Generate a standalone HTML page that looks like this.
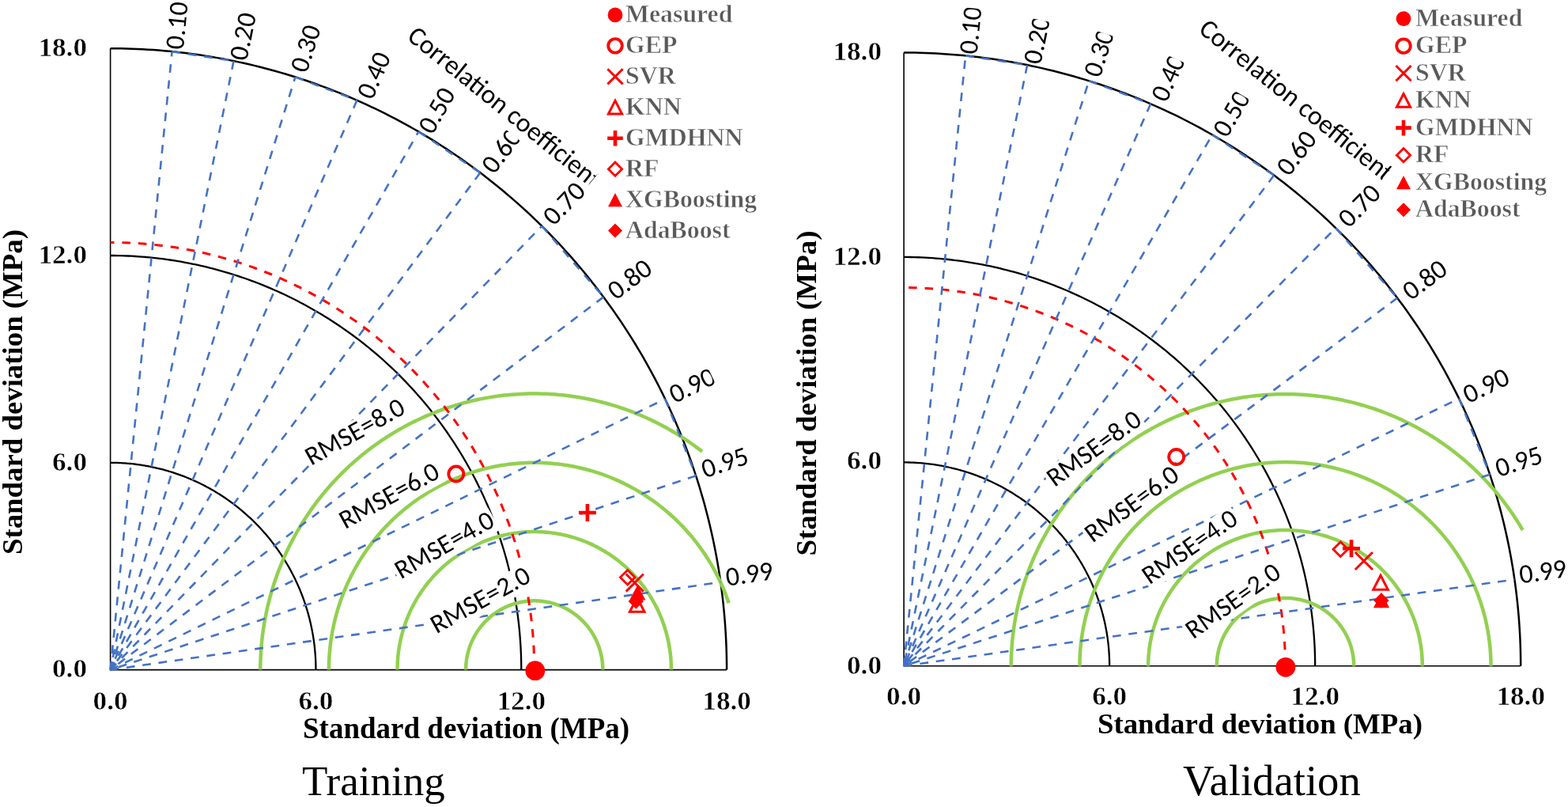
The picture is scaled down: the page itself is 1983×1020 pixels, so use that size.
<!DOCTYPE html>
<html><head><meta charset="utf-8"><title>Taylor diagrams</title>
<style>html,body{margin:0;padding:0;background:#fff}svg{display:block}</style></head>
<body><svg width="1983" height="1020" viewBox="0 0 1983 1020">
<rect width="1983" height="1020" fill="#fff"/>
<path d="M139.6,584.8 L141.87,584.81 L144.13,584.84 L146.4,584.89 L148.67,584.96 L150.93,585.05 L153.2,585.16 L155.46,585.29 L157.73,585.44 L159.99,585.61 L162.25,585.8 L164.5,586.01 L166.76,586.23 L169.01,586.48 L171.27,586.75 L173.52,587.04 L175.76,587.35 L178.01,587.68 L180.25,588.02 L182.48,588.39 L184.72,588.78 L186.95,589.18 L189.18,589.61 L191.4,590.06 L193.62,590.52 L195.84,591.01 L198.05,591.51 L200.26,592.03 L202.46,592.58 L204.66,593.14 L206.85,593.72 L209.04,594.32 L211.22,594.94 L213.4,595.58 L215.57,596.24 L217.73,596.92 L219.89,597.61 L222.05,598.33 L224.19,599.06 L226.33,599.82 L228.47,600.59 L230.6,601.38 L232.72,602.19 L234.83,603.02 L236.94,603.86 L239.03,604.73 L241.12,605.61 L243.21,606.51 L245.28,607.43 L247.35,608.37 L249.41,609.33 L251.46,610.3 L253.5,611.3 L255.54,612.31 L257.56,613.33 L259.58,614.38 L261.58,615.44 L263.58,616.53 L265.57,617.62 L267.55,618.74 L269.52,619.87 L271.48,621.03 L273.42,622.19 L275.36,623.38 L277.29,624.58 L279.21,625.8 L281.12,627.04 L283.01,628.29 L284.9,629.56 L286.77,630.84 L288.63,632.15 L290.49,633.46 L292.33,634.8 L294.15,636.15 L295.97,637.52 L297.78,638.9 L299.57,640.3 L301.35,641.71 L303.12,643.14 L304.87,644.59 L306.62,646.05 L308.35,647.53 L310.07,649.02 L311.77,650.52 L313.46,652.04 L315.14,653.58 L316.81,655.13 L318.46,656.7 L320.1,658.28 L321.72,659.87 L323.33,661.48 L324.93,663.1 L326.51,664.74 L328.08,666.39 L329.63,668.05 L331.17,669.73 L332.69,671.42 L334.2,673.13 L335.7,674.84 L337.18,676.57 L338.64,678.32 L340.09,680.07 L341.53,681.84 L342.95,683.63 L344.35,685.42 L345.74,687.23 L347.11,689.04 L348.47,690.88 L349.81,692.72 L351.13,694.57 L352.44,696.44 L353.74,698.31 L355.01,700.2 L356.27,702.1 L357.51,704.01 L358.74,705.93 L359.95,707.87 L361.14,709.81 L362.32,711.76 L363.48,713.73 L364.62,715.7 L365.75,717.68 L366.86,719.68 L367.95,721.68 L369.02,723.69 L370.07,725.71 L371.11,727.75 L372.13,729.79 L373.14,731.83 L374.12,733.89 L375.09,735.96 L376.04,738.03 L376.97,740.12 L377.88,742.21 L378.78,744.31 L379.65,746.41 L380.51,748.53 L381.35,750.65 L382.18,752.78 L382.98,754.92 L383.76,757.06 L384.53,759.21 L385.28,761.37 L386.01,763.53 L386.72,765.7 L387.41,767.88 L388.08,770.06 L388.73,772.24 L389.37,774.44 L389.98,776.64 L390.58,778.84 L391.16,781.05 L391.72,783.26 L392.25,785.48 L392.77,787.71 L393.27,789.94 L393.76,792.17 L394.22,794.41 L394.66,796.65 L395.08,798.89 L395.49,801.14 L395.87,803.39 L396.23,805.65 L396.58,807.9 L396.9,810.16 L397.21,812.43 L397.5,814.69 L397.76,816.96 L398.01,819.23 L398.24,821.51 L398.44,823.78 L398.63,826.06 L398.8,828.34 L398.95,830.62 L399.08,832.9 L399.19,835.18 L399.28,837.46 L399.34,839.75 L399.39,842.03 L399.42,844.32 L399.43,846.6" fill="none" stroke="#000" stroke-width="2.3"/>
<path d="M139.6,323 L144.13,323.02 L148.67,323.08 L153.2,323.18 L157.74,323.32 L162.27,323.5 L166.8,323.72 L171.32,323.98 L175.85,324.28 L180.37,324.61 L184.89,324.99 L189.41,325.41 L193.92,325.87 L198.43,326.37 L202.93,326.9 L207.43,327.48 L211.92,328.1 L216.41,328.75 L220.89,329.45 L225.37,330.18 L229.84,330.95 L234.3,331.77 L238.76,332.62 L243.2,333.51 L247.64,334.44 L252.08,335.41 L256.5,336.42 L260.91,337.47 L265.32,338.55 L269.71,339.68 L274.1,340.84 L278.47,342.04 L282.84,343.28 L287.19,344.56 L291.54,345.88 L295.87,347.23 L300.19,348.63 L304.49,350.06 L308.79,351.53 L313.07,353.03 L317.34,354.58 L321.59,356.16 L325.83,357.78 L330.06,359.43 L334.27,361.13 L338.47,362.86 L342.65,364.62 L346.82,366.43 L350.97,368.27 L355.1,370.14 L359.22,372.06 L363.32,374.01 L367.41,375.99 L371.47,378.01 L375.52,380.07 L379.56,382.16 L383.57,384.29 L387.56,386.45 L391.54,388.65 L395.5,390.88 L399.43,393.15 L403.35,395.45 L407.25,397.79 L411.13,400.16 L414.98,402.56 L418.82,405 L422.63,407.47 L426.42,409.98 L430.19,412.52 L433.94,415.09 L437.67,417.69 L441.37,420.33 L445.05,423 L448.71,425.7 L452.34,428.43 L455.95,431.2 L459.54,434 L463.1,436.83 L466.64,439.69 L470.15,442.58 L473.64,445.5 L477.1,448.45 L480.53,451.43 L483.94,454.45 L487.32,457.49 L490.68,460.56 L494.01,463.66 L497.31,466.79 L500.59,469.95 L503.84,473.14 L507.06,476.36 L510.25,479.6 L513.42,482.88 L516.55,486.18 L519.66,489.51 L522.74,492.86 L525.79,496.24 L528.81,499.65 L531.8,503.09 L534.76,506.55 L537.69,510.04 L540.59,513.55 L543.46,517.09 L546.3,520.65 L549.1,524.24 L551.88,527.85 L554.62,531.49 L557.34,535.15 L560.02,538.84 L562.67,542.54 L565.29,546.28 L567.87,550.03 L570.42,553.81 L572.94,557.61 L575.43,561.43 L577.88,565.27 L580.3,569.13 L582.69,573.02 L585.04,576.93 L587.36,580.85 L589.64,584.8 L591.89,588.77 L594.11,592.75 L596.29,596.76 L598.44,600.78 L600.55,604.83 L602.63,608.89 L604.67,612.97 L606.67,617.07 L608.64,621.18 L610.58,625.32 L612.48,629.47 L614.34,633.63 L616.17,637.81 L617.96,642.01 L619.71,646.23 L621.43,650.46 L623.11,654.7 L624.75,658.96 L626.36,663.23 L627.93,667.52 L629.46,671.82 L630.95,676.13 L632.41,680.46 L633.83,684.8 L635.21,689.15 L636.56,693.51 L637.87,697.89 L639.14,702.28 L640.37,706.67 L641.56,711.08 L642.71,715.5 L643.83,719.93 L644.91,724.37 L645.95,728.82 L646.95,733.27 L647.91,737.74 L648.83,742.21 L649.72,746.69 L650.56,751.18 L651.37,755.68 L652.14,760.18 L652.87,764.69 L653.56,769.21 L654.21,773.73 L654.82,778.26 L655.39,782.79 L655.93,787.33 L656.42,791.87 L656.87,796.42 L657.29,800.97 L657.66,805.52 L658,810.08 L658.3,814.63 L658.55,819.2 L658.77,823.76 L658.95,828.33 L659.09,832.89 L659.19,837.46 L659.25,842.03 L659.27,846.6" fill="none" stroke="#000" stroke-width="2.3"/>
<path d="M139.6,61.2 L146.4,61.23 L153.2,61.32 L160,61.47 L166.8,61.68 L173.6,61.95 L180.4,62.28 L187.19,62.66 L193.98,63.11 L200.76,63.62 L207.54,64.19 L214.31,64.82 L221.08,65.5 L227.84,66.25 L234.6,67.05 L241.35,67.92 L248.09,68.84 L254.82,69.83 L261.54,70.87 L268.25,71.97 L274.96,73.13 L281.65,74.35 L288.34,75.63 L295.01,76.97 L301.67,78.36 L308.31,79.82 L314.95,81.33 L321.57,82.9 L328.18,84.53 L334.77,86.22 L341.35,87.96 L347.91,89.76 L354.46,91.63 L360.99,93.54 L367.5,95.52 L374,97.55 L380.48,99.64 L386.94,101.79 L393.38,103.99 L399.8,106.25 L406.2,108.57 L412.59,110.94 L418.95,113.37 L425.29,115.85 L431.61,118.39 L437.9,120.99 L444.17,123.64 L450.42,126.34 L456.65,129.1 L462.85,131.92 L469.03,134.79 L475.18,137.71 L481.31,140.69 L487.41,143.72 L493.49,146.8 L499.53,149.94 L505.55,153.13 L511.55,156.38 L517.51,159.67 L523.44,163.02 L529.35,166.42 L535.23,169.88 L541.07,173.38 L546.89,176.94 L552.67,180.54 L558.43,184.2 L564.15,187.91 L569.83,191.67 L575.49,195.47 L581.11,199.33 L586.7,203.24 L592.26,207.19 L597.78,211.2 L603.26,215.25 L608.71,219.35 L614.13,223.5 L619.51,227.7 L624.85,231.94 L630.16,236.23 L635.42,240.57 L640.65,244.95 L645.84,249.38 L651,253.85 L656.11,258.37 L661.19,262.93 L666.22,267.54 L671.22,272.19 L676.17,276.89 L681.09,281.63 L685.96,286.41 L690.79,291.24 L695.58,296.11 L700.33,301.02 L705.03,305.97 L709.69,310.96 L714.31,315.99 L718.88,321.06 L723.41,326.18 L727.9,331.33 L732.34,336.52 L736.73,341.75 L741.08,347.02 L745.39,352.33 L749.64,357.68 L753.85,363.06 L758.02,368.48 L762.14,373.93 L766.21,379.43 L770.23,384.95 L774.2,390.52 L778.13,396.11 L782.01,401.74 L785.83,407.41 L789.61,413.11 L793.34,418.84 L797.02,424.6 L800.65,430.4 L804.23,436.23 L807.76,442.09 L811.24,447.98 L814.67,453.9 L818.04,459.85 L821.37,465.83 L824.64,471.84 L827.86,477.88 L831.02,483.94 L834.14,490.04 L837.2,496.16 L840.21,502.3 L843.17,508.48 L846.07,514.68 L848.91,520.9 L851.71,527.15 L854.45,533.42 L857.13,539.72 L859.76,546.04 L862.34,552.38 L864.86,558.75 L867.33,565.14 L869.74,571.55 L872.09,577.98 L874.39,584.43 L876.63,590.9 L878.82,597.39 L880.95,603.9 L883.02,610.43 L885.04,616.97 L887,623.53 L888.9,630.11 L890.75,636.71 L892.54,643.32 L894.27,649.95 L895.95,656.59 L897.56,663.25 L899.12,669.92 L900.62,676.61 L902.07,683.31 L903.45,690.02 L904.78,696.74 L906.05,703.47 L907.26,710.22 L908.41,716.97 L909.5,723.74 L910.54,730.51 L911.51,737.29 L912.43,744.08 L913.29,750.88 L914.09,757.69 L914.83,764.5 L915.51,771.32 L916.13,778.15 L916.7,784.98 L917.2,791.81 L917.65,798.65 L918.03,805.5 L918.36,812.34 L918.63,819.19 L918.83,826.04 L918.98,832.89 L919.07,839.75 L919.1,846.6" fill="none" stroke="#000" stroke-width="2.5"/>
<path d="M139.6,61.2L139.6,846.6L919.1,846.6" fill="none" stroke="#000" stroke-width="1.6"/>
<path d="M589.11,846.6 L589.12,845.08 L589.16,843.55 L589.23,842.03 L589.32,840.51 L589.44,838.99 L589.59,837.48 L589.76,835.96 L589.95,834.45 L590.18,832.95 L590.43,831.45 L590.7,829.95 L591,828.46 L591.33,826.97 L591.68,825.49 L592.06,824.01 L592.47,822.55 L592.9,821.09 L593.35,819.63 L593.83,818.19 L594.33,816.75 L594.86,815.33 L595.42,813.91 L596,812.5 L596.6,811.11 L597.23,809.72 L597.88,808.34 L598.55,806.98 L599.25,805.63 L599.97,804.29 L600.72,802.97 L601.48,801.65 L602.27,800.36 L603.08,799.07 L603.92,797.8 L604.78,796.55 L605.65,795.31 L606.55,794.08 L607.47,792.87 L608.41,791.68 L609.37,790.51 L610.36,789.35 L611.36,788.21 L612.38,787.08 L613.42,785.98 L614.48,784.89 L615.56,783.83 L616.65,782.78 L617.77,781.75 L618.9,780.74 L620.05,779.75 L621.22,778.78 L622.4,777.83 L623.6,776.91 L624.81,776 L626.04,775.12 L627.29,774.25 L628.55,773.41 L629.83,772.59 L631.11,771.8 L632.42,771.02 L633.73,770.27 L635.06,769.55 L636.4,768.84 L637.75,768.17 L639.12,767.51 L640.49,766.88 L641.88,766.27 L643.28,765.69 L644.68,765.13 L646.1,764.6 L647.52,764.09 L648.96,763.6 L650.4,763.15 L651.85,762.71 L653.31,762.31 L654.77,761.93 L656.24,761.57 L657.72,761.24 L659.2,760.94 L660.68,760.66 L662.17,760.41 L663.67,760.18 L665.17,759.98 L666.67,759.81 L668.17,759.67 L669.68,759.55 L671.19,759.45 L672.7,759.39 L674.21,759.35 L675.72,759.33 L677.23,759.35 L678.75,759.39 L680.26,759.45 L681.76,759.55 L683.27,759.67 L684.78,759.81 L686.28,759.98 L687.78,760.18 L689.27,760.41 L690.76,760.66 L692.25,760.94 L693.73,761.24 L695.21,761.57 L696.68,761.93 L698.14,762.31 L699.6,762.71 L701.05,763.15 L702.49,763.6 L703.92,764.09 L705.35,764.6 L706.76,765.13 L708.17,765.69 L709.56,766.27 L710.95,766.88 L712.33,767.51 L713.69,768.17 L715.04,768.84 L716.38,769.55 L717.71,770.27 L719.03,771.02 L720.33,771.8 L721.62,772.59 L722.89,773.41 L724.16,774.25 L725.4,775.12 L726.63,776 L727.85,776.91 L729.05,777.83 L730.23,778.78 L731.4,779.75 L732.54,780.74 L733.68,781.75 L734.79,782.78 L735.89,783.83 L736.97,784.89 L738.03,785.98 L739.07,787.08 L740.09,788.21 L741.09,789.35 L742.07,790.51 L743.03,791.68 L743.97,792.87 L744.89,794.08 L745.79,795.31 L746.67,796.55 L747.53,797.8 L748.36,799.07 L749.17,800.36 L749.96,801.65 L750.73,802.97 L751.47,804.29 L752.2,805.63 L752.89,806.98 L753.57,808.34 L754.22,809.72 L754.85,811.11 L755.45,812.5 L756.03,813.91 L756.58,815.33 L757.11,816.75 L757.62,818.19 L758.09,819.63 L758.55,821.09 L758.98,822.55 L759.38,824.01 L759.76,825.49 L760.11,826.97 L760.44,828.46 L760.74,829.95 L761.02,831.45 L761.27,832.95 L761.49,834.45 L761.69,835.96 L761.86,837.48 L762,838.99 L762.12,840.51 L762.22,842.03 L762.28,843.55 L762.32,845.08 L762.33,846.6" fill="none" stroke="#92D050" stroke-width="4.5"/>
<path d="M502.5,846.6 L502.53,843.55 L502.61,840.51 L502.74,837.47 L502.92,834.43 L503.16,831.39 L503.45,828.36 L503.79,825.33 L504.19,822.31 L504.63,819.3 L505.13,816.29 L505.68,813.3 L506.29,810.31 L506.94,807.34 L507.65,804.38 L508.4,801.43 L509.21,798.49 L510.07,795.57 L510.98,792.67 L511.94,789.78 L512.95,786.91 L514.01,784.05 L515.11,781.22 L516.27,778.4 L517.48,775.61 L518.73,772.84 L520.03,770.09 L521.38,767.36 L522.78,764.66 L524.22,761.98 L525.71,759.33 L527.24,756.71 L528.82,754.11 L530.45,751.54 L532.12,749 L533.83,746.49 L535.58,744.01 L537.38,741.56 L539.22,739.15 L541.1,736.76 L543.03,734.41 L544.99,732.1 L546.99,729.81 L549.04,727.57 L551.12,725.36 L553.24,723.19 L555.39,721.05 L557.59,718.95 L559.81,716.9 L562.08,714.88 L564.38,712.9 L566.71,710.96 L569.08,709.07 L571.48,707.21 L573.91,705.4 L576.37,703.63 L578.86,701.91 L581.38,700.22 L583.93,698.59 L586.51,697 L589.11,695.45 L591.74,693.95 L594.4,692.5 L597.08,691.09 L599.79,689.73 L602.52,688.42 L605.27,687.16 L608.04,685.94 L610.83,684.78 L613.65,683.66 L616.48,682.59 L619.33,681.58 L622.19,680.61 L625.08,679.69 L627.98,678.83 L630.89,678.01 L633.82,677.25 L636.76,676.54 L639.71,675.88 L642.67,675.27 L645.64,674.72 L648.62,674.22 L651.61,673.77 L654.61,673.37 L657.62,673.02 L660.63,672.73 L663.64,672.49 L666.66,672.31 L669.68,672.17 L672.7,672.09 L675.72,672.07 L678.75,672.09 L681.77,672.17 L684.79,672.31 L687.81,672.49 L690.82,672.73 L693.83,673.02 L696.83,673.37 L699.83,673.77 L702.82,674.22 L705.8,674.72 L708.78,675.27 L711.74,675.88 L714.69,676.54 L717.63,677.25 L720.56,678.01 L723.47,678.83 L726.37,679.69 L729.25,680.61 L732.12,681.58 L734.97,682.59 L737.8,683.66 L740.61,684.78 L743.41,685.94 L746.18,687.16 L748.93,688.42 L751.66,689.73 L754.36,691.09 L757.05,692.5 L759.7,693.95 L762.33,695.45 L764.94,697 L767.52,698.59 L770.07,700.22 L772.59,701.91 L775.08,703.63 L777.54,705.4 L779.97,707.21 L782.37,709.07 L784.74,710.96 L787.07,712.9 L789.37,714.88 L791.63,716.9 L793.86,718.95 L796.05,721.05 L798.21,723.19 L800.33,725.36 L802.41,727.57 L804.45,729.81 L806.46,732.1 L808.42,734.41 L810.34,736.76 L812.22,739.15 L814.06,741.56 L815.86,744.01 L817.62,746.49 L819.33,749 L821,751.54 L822.62,754.11 L824.2,756.71 L825.74,759.33 L827.23,761.98 L828.67,764.66 L830.06,767.36 L831.41,770.09 L832.72,772.84 L833.97,775.61 L835.17,778.4 L836.33,781.22 L837.44,784.05 L838.5,786.91 L839.51,789.78 L840.47,792.67 L841.38,795.57 L842.23,798.49 L843.04,801.43 L843.8,804.38 L844.51,807.34 L845.16,810.31 L845.76,813.3 L846.31,816.29 L846.81,819.3 L847.26,822.31 L847.65,825.33 L848,828.36 L848.29,831.39 L848.52,834.43 L848.71,837.47 L848.84,840.51 L848.92,843.55 L848.95,846.6" fill="none" stroke="#92D050" stroke-width="4.5"/>
<path d="M415.89,846.6 L415.92,842.51 L416.02,838.42 L416.18,834.33 L416.4,830.24 L416.68,826.16 L417.03,822.08 L417.44,818.01 L417.92,813.95 L418.46,809.89 L419.06,805.85 L419.72,801.81 L420.45,797.78 L421.24,793.77 L422.09,789.77 L423,785.78 L423.97,781.81 L425.01,777.85 L426.11,773.91 L427.26,769.99 L428.48,766.09 L429.76,762.2 L431.1,758.34 L432.5,754.5 L433.96,750.68 L435.48,746.88 L437.05,743.11 L438.69,739.37 L440.38,735.65 L442.13,731.95 L443.94,728.29 L445.8,724.65 L447.72,721.05 L449.69,717.47 L451.73,713.93 L453.81,710.42 L455.95,706.94 L458.14,703.49 L460.39,700.09 L462.69,696.71 L465.04,693.38 L467.44,690.08 L469.9,686.82 L472.4,683.59 L474.95,680.41 L477.56,677.27 L480.21,674.17 L482.91,671.11 L485.65,668.1 L488.44,665.13 L491.28,662.2 L494.16,659.32 L497.09,656.48 L500.06,653.69 L503.08,650.95 L506.13,648.25 L509.23,645.61 L512.37,643.01 L515.55,640.46 L518.76,637.96 L522.02,635.52 L525.31,633.12 L528.64,630.78 L532.01,628.49 L535.41,626.25 L538.84,624.07 L542.31,621.94 L545.81,619.87 L549.35,617.85 L552.91,615.89 L556.51,613.98 L560.13,612.13 L563.78,610.34 L567.46,608.61 L571.16,606.93 L574.89,605.32 L578.65,603.76 L582.43,602.26 L586.23,600.82 L590.05,599.44 L593.9,598.12 L597.76,596.86 L601.65,595.66 L605.55,594.53 L609.47,593.45 L613.4,592.44 L617.35,591.49 L621.32,590.6 L625.29,589.78 L629.28,589.02 L633.29,588.32 L637.3,587.68 L641.32,587.11 L645.35,586.6 L649.38,586.15 L653.43,585.77 L657.48,585.45 L661.53,585.19 L665.59,585 L669.65,584.87 L673.71,584.81 L677.77,584.81 L681.83,584.87 L685.89,585 L689.95,585.19 L694,585.45 L698.05,585.77 L702.09,586.15 L706.13,586.6 L710.16,587.11 L714.18,587.68 L718.19,588.32 L722.19,589.02 L726.18,589.78 L730.16,590.61 L734.12,591.5 L738.07,592.45 L742.01,593.46 L745.93,594.54 L749.83,595.67 L753.71,596.87 L757.58,598.13 L761.42,599.45 L765.24,600.83 L769.05,602.27 L772.82,603.77 L776.58,605.33 L780.31,606.94 L784.01,608.62 L787.69,610.36 L791.34,612.15 L794.97,614 L798.56,615.9 L802.12,617.87 L805.66,619.88 L809.16,621.96 L812.63,624.09 L816.06,626.27 L819.46,628.51 L822.83,630.8 L826.16,633.14 L829.45,635.54 L832.71,637.98 L835.92,640.48 L839.1,643.03 L842.24,645.63 L845.34,648.27 L848.39,650.97 L851.4,653.71 L854.38,656.5 L857.3,659.34 L860.19,662.22 L863.02,665.15 L865.81,668.12 L868.56,671.14 L871.26,674.19 L873.91,677.29 L876.51,680.44 L879.06,683.62 L881.57,686.84 L884.02,690.1 L886.42,693.4 L888.77,696.74 L891.07,700.11 L893.32,703.52 L895.51,706.96 L897.65,710.44 L899.74,713.95 L901.77,717.5 L903.74,721.07 L905.66,724.68 L907.52,728.32 L909.33,731.98 L911.08,735.67 L912.77,739.39 L914.41,743.14 L915.98,746.91 L917.5,750.71 L918.96,754.53 L920.36,758.37 L921.69,762.23" fill="none" stroke="#92D050" stroke-width="4.5"/>
<path d="M329.28,846.6 L329.3,842.27 L329.38,837.95 L329.52,833.63 L329.7,829.3 L329.94,824.99 L330.24,820.67 L330.58,816.36 L330.98,812.05 L331.43,807.75 L331.93,803.45 L332.49,799.17 L333.1,794.88 L333.76,790.61 L334.48,786.35 L335.25,782.09 L336.07,777.84 L336.94,773.61 L337.86,769.38 L338.84,765.17 L339.86,760.97 L340.94,756.78 L342.07,752.61 L343.25,748.45 L344.49,744.31 L345.77,740.18 L347.1,736.07 L348.49,731.98 L349.92,727.9 L351.41,723.84 L352.94,719.8 L354.53,715.78 L356.16,711.78 L357.84,707.8 L359.58,703.84 L361.36,699.91 L363.18,695.99 L365.06,692.1 L366.98,688.24 L368.95,684.39 L370.97,680.58 L373.04,676.78 L375.15,673.02 L377.31,669.28 L379.51,665.57 L381.76,661.88 L384.06,658.23 L386.39,654.6 L388.78,651 L391.21,647.43 L393.68,643.9 L396.19,640.39 L398.75,636.92 L401.35,633.47 L403.99,630.06 L406.68,626.69 L409.4,623.35 L412.17,620.04 L414.97,616.77 L417.82,613.53 L420.71,610.33 L423.63,607.16 L426.6,604.03 L429.6,600.94 L432.64,597.88 L435.72,594.87 L438.83,591.89 L441.98,588.95 L445.17,586.05 L448.39,583.2 L451.65,580.38 L454.94,577.6 L458.26,574.86 L461.62,572.17 L465.01,569.52 L468.44,566.91 L471.89,564.34 L475.38,561.82 L478.9,559.34 L482.44,556.9 L486.02,554.51 L489.63,552.17 L493.26,549.87 L496.93,547.61 L500.62,545.4 L504.34,543.24 L508.08,541.12 L511.85,539.05 L515.65,537.03 L519.46,535.06 L523.31,533.13 L527.18,531.25 L531.06,529.42 L534.98,527.64 L538.91,525.9 L542.86,524.22 L546.84,522.59 L550.83,521 L554.85,519.47 L558.88,517.98 L562.93,516.55 L567,515.17 L571.08,513.84 L575.18,512.56 L579.3,511.33 L583.43,510.15 L587.58,509.02 L591.73,507.95 L595.91,506.92 L600.09,505.95 L604.28,505.04 L608.49,504.17 L612.71,503.36 L616.93,502.6 L621.17,501.89 L625.41,501.23 L629.66,500.63 L633.92,500.08 L638.19,499.59 L642.46,499.15 L646.73,498.76 L651.01,498.42 L655.3,498.14 L659.58,497.91 L663.87,497.74 L668.17,497.62 L672.46,497.55 L676.75,497.53 L681.04,497.57 L685.34,497.67 L689.63,497.81 L693.91,498.01 L698.2,498.27 L702.48,498.58 L706.76,498.94 L711.03,499.35 L715.3,499.82 L719.56,500.34 L723.82,500.91 L728.07,501.54 L732.31,502.22 L736.54,502.95 L740.76,503.74 L744.97,504.58 L749.17,505.47 L753.36,506.41 L757.54,507.41 L761.7,508.45 L765.86,509.55 L769.99,510.71 L774.12,511.91 L778.23,513.16 L782.32,514.47 L786.4,515.82 L790.46,517.23 L794.5,518.69 L798.52,520.2 L802.53,521.76 L806.51,523.36 L810.48,525.02 L814.42,526.73 L818.34,528.48 L822.25,530.29 L826.12,532.14 L829.98,534.05 L833.81,536 L837.62,537.99 L841.4,540.04 L845.16,542.13 L848.89,544.27 L852.6,546.45 L856.28,548.69 L859.93,550.96 L863.55,553.29 L867.14,555.65 L870.7,558.07 L874.24,560.52 L877.74,563.02 L881.21,565.57 L884.65,568.15 L888.06,570.78" fill="none" stroke="#92D050" stroke-width="4.5"/>
<path d="M675.72,846.6 L675.7,841.89 L675.64,837.17 L675.54,832.46 L675.4,827.75 L675.21,823.04 L674.99,818.33 L674.72,813.62 L674.42,808.92 L674.07,804.22 L673.68,799.52 L673.25,794.83 L672.79,790.14 L672.28,785.45 L671.73,780.77 L671.14,776.09 L670.51,771.42 L669.83,766.76 L669.12,762.1 L668.37,757.44 L667.58,752.8 L666.75,748.16 L665.87,743.53 L664.96,738.91 L664.01,734.29 L663.01,729.68 L661.98,725.09 L660.91,720.5 L659.8,715.92 L658.65,711.35 L657.45,706.79 L656.22,702.24 L654.95,697.71 L653.65,693.18 L652.3,688.67 L650.91,684.16 L649.48,679.67 L648.02,675.2 L646.51,670.73 L644.97,666.28 L643.39,661.85 L641.77,657.42 L640.11,653.02 L638.42,648.62 L636.68,644.24 L634.91,639.88 L633.1,635.53 L631.26,631.2 L629.37,626.89 L627.45,622.59 L625.49,618.31 L623.5,614.05 L621.46,609.8 L619.39,605.57 L617.29,601.36 L615.15,597.17 L612.97,593 L610.75,588.85 L608.5,584.72 L606.22,580.6 L603.9,576.51 L601.54,572.44 L599.15,568.39 L596.72,564.36 L594.26,560.35 L591.76,556.36 L589.23,552.4 L586.67,548.45 L584.07,544.53 L581.43,540.64 L578.77,536.77 L576.07,532.92 L573.33,529.09 L570.57,525.29 L567.77,521.51 L564.93,517.76 L562.07,514.03 L559.17,510.33 L556.25,506.65 L553.29,503 L550.29,499.38 L547.27,495.78 L544.22,492.21 L541.13,488.67 L538.02,485.15 L534.87,481.66 L531.7,478.2 L528.49,474.76 L525.25,471.36 L521.99,467.98 L518.7,464.63 L515.37,461.32 L512.02,458.03 L508.64,454.77 L505.23,451.54 L501.8,448.34 L498.34,445.17 L494.85,442.03 L491.33,438.92 L487.78,435.84 L484.21,432.8 L480.62,429.78 L476.99,426.8 L473.34,423.85 L469.67,420.93 L465.97,418.05 L462.25,415.19 L458.5,412.37 L454.73,409.58 L450.93,406.83 L447.11,404.11 L443.26,401.42 L439.4,398.77 L435.51,396.15 L431.59,393.57 L427.66,391.02 L423.7,388.5 L419.72,386.02 L415.72,383.57 L411.7,381.16 L407.66,378.79 L403.6,376.45 L399.52,374.15 L395.42,371.88 L391.29,369.65 L387.15,367.45 L382.99,365.3 L378.82,363.17 L374.62,361.09 L370.41,359.04 L366.18,357.03 L361.93,355.06 L357.66,353.12 L353.38,351.22 L349.08,349.36 L344.77,347.54 L340.44,345.75 L336.09,344.01 L331.73,342.3 L327.35,340.63 L322.96,339 L318.56,337.4 L314.14,335.85 L309.71,334.33 L305.27,332.86 L300.82,331.42 L296.35,330.02 L291.87,328.66 L287.38,327.35 L282.87,326.07 L278.36,324.83 L273.83,323.63 L269.3,322.47 L264.76,321.34 L260.2,320.26 L255.64,319.22 L251.07,318.22 L246.49,317.26 L241.9,316.34 L237.3,315.46 L232.7,314.63 L228.09,313.83 L223.47,313.07 L218.84,312.35 L214.21,311.68 L209.58,311.04 L204.94,310.45 L200.29,309.89 L195.64,309.38 L190.99,308.91 L186.33,308.47 L181.66,308.08 L177,307.74 L172.33,307.43 L167.66,307.16 L162.99,306.93 L158.31,306.75 L153.63,306.6 L148.96,306.5 L144.28,306.44 L139.6,306.42" fill="none" stroke="#FF0000" stroke-width="3" stroke-dasharray="10.5 10"/>
<path d="M139.6,846.6L217.55,65.14" fill="none" stroke="#4472C4" stroke-width="2.6" stroke-dasharray="10.8 9.7"/>
<path d="M217.55,65.14L295.5,77.07" fill="none" stroke="#4472C4" stroke-width="2.6" stroke-dasharray="10.8 9.7"/>
<path d="M295.5,77.07L139.6,846.6" fill="none" stroke="#4472C4" stroke-width="2.6" stroke-dasharray="10.8 9.7"/>
<path d="M139.6,846.6L373.45,97.38" fill="none" stroke="#4472C4" stroke-width="2.6" stroke-dasharray="10.8 9.7"/>
<path d="M373.45,97.38L451.4,126.77" fill="none" stroke="#4472C4" stroke-width="2.6" stroke-dasharray="10.8 9.7"/>
<path d="M451.4,126.77L139.6,846.6" fill="none" stroke="#4472C4" stroke-width="2.6" stroke-dasharray="10.8 9.7"/>
<path d="M139.6,846.6L529.35,166.42" fill="none" stroke="#4472C4" stroke-width="2.6" stroke-dasharray="10.8 9.7"/>
<path d="M529.35,166.42L607.3,218.28" fill="none" stroke="#4472C4" stroke-width="2.6" stroke-dasharray="10.8 9.7"/>
<path d="M607.3,218.28L139.6,846.6" fill="none" stroke="#4472C4" stroke-width="2.6" stroke-dasharray="10.8 9.7"/>
<path d="M139.6,846.6L685.25,285.71" fill="none" stroke="#4472C4" stroke-width="2.6" stroke-dasharray="10.8 9.7"/>
<path d="M685.25,285.71L763.2,375.36" fill="none" stroke="#4472C4" stroke-width="2.6" stroke-dasharray="10.8 9.7"/>
<path d="M763.2,375.36L139.6,846.6" fill="none" stroke="#4472C4" stroke-width="2.6" stroke-dasharray="10.8 9.7"/>
<path d="M139.6,846.6L841.15,504.25" fill="none" stroke="#4472C4" stroke-width="2.6" stroke-dasharray="10.8 9.7"/>
<path d="M841.15,504.25L880.12,601.36" fill="none" stroke="#4472C4" stroke-width="2.6" stroke-dasharray="10.8 9.7"/>
<path d="M880.12,601.36L139.6,846.6" fill="none" stroke="#4472C4" stroke-width="2.6" stroke-dasharray="10.8 9.7"/>
<path d="M139.6,846.6L911.31,735.81" fill="none" stroke="#4472C4" stroke-width="2.6" stroke-dasharray="10.8 9.7"/>
<g transform="translate(393.48,588.9) rotate(-29.1)"><rect x="-2" y="-25" width="142.51" height="32.5" fill="#fff"/><text x="0" y="0" font-family="Carlito,Calibri,'Liberation Sans',sans-serif" font-size="33.7" textLength="138.45" lengthAdjust="spacingAndGlyphs">RMSE=8.0</text></g>
<g transform="translate(436.58,669.21) rotate(-28.7)"><rect x="-2" y="-25" width="142.51" height="32.5" fill="#fff"/><text x="0" y="0" font-family="Carlito,Calibri,'Liberation Sans',sans-serif" font-size="33.7" textLength="138.45" lengthAdjust="spacingAndGlyphs">RMSE=6.0</text></g>
<g transform="translate(506.96,732.39) rotate(-29.6)"><rect x="-2" y="-25" width="142.51" height="32.5" fill="#fff"/><text x="0" y="0" font-family="Carlito,Calibri,'Liberation Sans',sans-serif" font-size="33.7" textLength="138.45" lengthAdjust="spacingAndGlyphs">RMSE=4.0</text></g>
<g transform="translate(552.01,801.41) rotate(-29)"><rect x="-2" y="-25" width="142.51" height="32.5" fill="#fff"/><text x="0" y="0" font-family="Carlito,Calibri,'Liberation Sans',sans-serif" font-size="33.7" textLength="138.45" lengthAdjust="spacingAndGlyphs">RMSE=2.0</text></g>
<text transform="translate(231.73,63.22) rotate(-84.3)" font-family="Carlito,Calibri,'Liberation Sans',sans-serif" font-size="34" textLength="60.28" lengthAdjust="spacingAndGlyphs">0.10</text>
<text transform="translate(312.11,77.69) rotate(-78.55)" font-family="Carlito,Calibri,'Liberation Sans',sans-serif" font-size="34" textLength="60.28" lengthAdjust="spacingAndGlyphs">0.20</text>
<text transform="translate(388.06,93.37) rotate(-72.67)" font-family="Carlito,Calibri,'Liberation Sans',sans-serif" font-size="34" textLength="60.28" lengthAdjust="spacingAndGlyphs">0.30</text>
<text transform="translate(470.99,127.25) rotate(-66.58)" font-family="Carlito,Calibri,'Liberation Sans',sans-serif" font-size="34" textLength="60.28" lengthAdjust="spacingAndGlyphs">0.40</text>
<text transform="translate(546.88,171.22) rotate(-60.19)" font-family="Carlito,Calibri,'Liberation Sans',sans-serif" font-size="34" textLength="60.28" lengthAdjust="spacingAndGlyphs">0.50</text>
<text transform="translate(625.09,221.35) rotate(-53.34)" font-family="Carlito,Calibri,'Liberation Sans',sans-serif" font-size="34" textLength="60.28" lengthAdjust="spacingAndGlyphs">0.60</text>
<g transform="translate(513.45,48.8) rotate(38.9)"><clipPath id="ccL"><rect x="-5" y="-40" width="301" height="60"/></clipPath><rect x="-3" y="-27" width="299" height="37" fill="#fff"/><text clip-path="url(#ccL)" x="0" y="0" font-family="Carlito,Calibri,'Liberation Sans',sans-serif" font-size="33.7" textLength="303.75" lengthAdjust="spacingAndGlyphs">Correlation coefficient</text></g>
<text transform="translate(700.27,286.42) rotate(-45.79)" font-family="Carlito,Calibri,'Liberation Sans',sans-serif" font-size="34" textLength="60.28" lengthAdjust="spacingAndGlyphs">0.70</text>
<text transform="translate(778.94,380.04) rotate(-37.08)" font-family="Carlito,Calibri,'Liberation Sans',sans-serif" font-size="34" textLength="60.28" lengthAdjust="spacingAndGlyphs">0.80</text>
<g transform="translate(853.25,510.13) rotate(-26.01)"><clipPath id="clL8"><rect x="-5" y="-40" width="62.5" height="60"/></clipPath><text clip-path="url(#clL8)" font-family="Carlito,Calibri,'Liberation Sans',sans-serif" font-size="34" textLength="60.28" lengthAdjust="spacingAndGlyphs">0.90</text></g>
<text transform="translate(891.44,604.42) rotate(-18.32)" font-family="Carlito,Calibri,'Liberation Sans',sans-serif" font-size="34" textLength="60.28" lengthAdjust="spacingAndGlyphs">0.95</text>
<text transform="translate(919.49,740.67) rotate(-8.17)" font-family="Carlito,Calibri,'Liberation Sans',sans-serif" font-size="34" textLength="60.28" lengthAdjust="spacingAndGlyphs">0.99</text>
<circle cx="676.8" cy="847.7" r="12.4" fill="#FF0000"/>
<circle cx="576.8" cy="599" r="9.5" fill="none" stroke="#FF0000" stroke-width="3.8"/>
<path d="M731.92,648L753.88,648M742.9,637.02L742.9,658.98" stroke="#FF0000" stroke-width="4.6" fill="none"/>
<path d="M793.7,720.51L802.99,729.8L793.7,739.09L784.41,729.8Z" stroke="#FF0000" stroke-width="2.8" fill="none"/>
<path d="M791.66,725.56L813.74,747.64M791.66,747.64L813.74,725.56" stroke="#FF0000" stroke-width="3.0" fill="none"/>
<path d="M805.7,755.21L814.99,773.32L796.41,773.32Z" stroke="#FF0000" stroke-width="3" fill="none" stroke-linejoin="miter"/>
<path d="M806.3,739.17L816.38,758.43L796.22,758.43Z" fill="#FF0000"/>
<path d="M804.3,750.28L814.02,760L804.3,769.72L794.58,760Z" fill="#FF0000"/>
<text transform="translate(139.6,897) scale(1.045,1)" text-anchor="middle" font-family="'Liberation Serif','Times New Roman',serif" font-weight="bold" font-size="33.7" stroke="#fff" stroke-width="0.5">0.0</text>
<text transform="translate(110,856.3) scale(1.045,1)" text-anchor="end" font-family="'Liberation Serif','Times New Roman',serif" font-weight="bold" font-size="33.7" stroke="#fff" stroke-width="0.5">0.0</text>
<text transform="translate(399.43,897) scale(1.045,1)" text-anchor="middle" font-family="'Liberation Serif','Times New Roman',serif" font-weight="bold" font-size="33.7" stroke="#fff" stroke-width="0.5">6.0</text>
<text transform="translate(110,594.5) scale(1.045,1)" text-anchor="end" font-family="'Liberation Serif','Times New Roman',serif" font-weight="bold" font-size="33.7" stroke="#fff" stroke-width="0.5">6.0</text>
<text transform="translate(659.27,897) scale(1.045,1)" text-anchor="middle" font-family="'Liberation Serif','Times New Roman',serif" font-weight="bold" font-size="33.7" stroke="#fff" stroke-width="0.5">12.0</text>
<text transform="translate(110,332.7) scale(1.045,1)" text-anchor="end" font-family="'Liberation Serif','Times New Roman',serif" font-weight="bold" font-size="33.7" stroke="#fff" stroke-width="0.5">12.0</text>
<text transform="translate(919.1,897) scale(1.045,1)" text-anchor="middle" font-family="'Liberation Serif','Times New Roman',serif" font-weight="bold" font-size="33.7" stroke="#fff" stroke-width="0.5">18.0</text>
<text transform="translate(110,70.9) scale(1.045,1)" text-anchor="end" font-family="'Liberation Serif','Times New Roman',serif" font-weight="bold" font-size="33.7" stroke="#fff" stroke-width="0.5">18.0</text>
<text x="383" y="932.6" font-family="'Liberation Serif','Times New Roman',serif" font-weight="bold" font-size="37">Standard deviation (MPa)</text>
<text transform="translate(28.2,701) rotate(-90)" font-family="'Liberation Serif','Times New Roman',serif" font-weight="bold" font-size="36.8">Standard deviation (MPa)</text>
<text x="382" y="1005.2" font-family="'Liberation Serif','Times New Roman',serif" font-size="53">Training</text>
<circle cx="778" cy="18.9" r="9.4" fill="#FF0000"/>
<text x="791" y="27.9" font-family="'Liberation Serif','Times New Roman',serif" font-weight="bold" font-size="31.8" fill="#595959" stroke="#fff" stroke-width="0.6">Measured</text>
<circle cx="778" cy="57.86" r="8.8" fill="none" stroke="#FF0000" stroke-width="3.8"/>
<text x="791" y="66.86" font-family="'Liberation Serif','Times New Roman',serif" font-weight="bold" font-size="31.8" fill="#595959" stroke="#fff" stroke-width="0.6">GEP</text>
<path d="M768.4,87.22L787.6,106.42M768.4,106.42L787.6,87.22" stroke="#FF0000" stroke-width="3.0" fill="none"/>
<text x="791" y="105.82" font-family="'Liberation Serif','Times New Roman',serif" font-weight="bold" font-size="31.8" fill="#595959" stroke="#fff" stroke-width="0.6">SVR</text>
<path d="M778,127.18L786.6,143.95L769.4,143.95Z" stroke="#FF0000" stroke-width="3" fill="none" stroke-linejoin="miter"/>
<text x="791" y="144.78" font-family="'Liberation Serif','Times New Roman',serif" font-weight="bold" font-size="31.8" fill="#595959" stroke="#fff" stroke-width="0.6">KNN</text>
<path d="M768.2,174.74L787.8,174.74M778,164.94L778,184.54" stroke="#FF0000" stroke-width="4.6" fill="none"/>
<text x="791" y="183.74" font-family="'Liberation Serif','Times New Roman',serif" font-weight="bold" font-size="31.8" fill="#595959" stroke="#fff" stroke-width="0.6">GMDHNN</text>
<path d="M778,205.1L786.6,213.7L778,222.3L769.4,213.7Z" stroke="#FF0000" stroke-width="2.8" fill="none"/>
<text x="791" y="222.7" font-family="'Liberation Serif','Times New Roman',serif" font-weight="bold" font-size="31.8" fill="#595959" stroke="#fff" stroke-width="0.6">RF</text>
<path d="M778,244.06L787,261.26L769,261.26Z" fill="#FF0000"/>
<text x="791" y="261.66" font-family="'Liberation Serif','Times New Roman',serif" font-weight="bold" font-size="31.8" fill="#595959" stroke="#fff" stroke-width="0.6">XGBoosting</text>
<path d="M778,282.62L787,291.62L778,300.62L769,291.62Z" fill="#FF0000"/>
<text x="791" y="300.62" font-family="'Liberation Serif','Times New Roman',serif" font-weight="bold" font-size="31.8" fill="#595959" stroke="#fff" stroke-width="0.6">AdaBoost</text>
<path d="M1143.1,584.4 L1145.37,584.41 L1147.64,584.44 L1149.91,584.49 L1152.18,584.56 L1154.44,584.64 L1156.71,584.75 L1158.97,584.88 L1161.24,585.03 L1163.5,585.19 L1165.76,585.38 L1168.02,585.59 L1170.28,585.81 L1172.54,586.05 L1174.79,586.32 L1177.04,586.6 L1179.29,586.9 L1181.54,587.23 L1183.78,587.57 L1186.02,587.93 L1188.25,588.31 L1190.49,588.71 L1192.72,589.13 L1194.94,589.57 L1197.16,590.02 L1199.38,590.5 L1201.59,591 L1203.8,591.51 L1206.01,592.05 L1208.21,592.6 L1210.4,593.17 L1212.59,593.76 L1214.77,594.37 L1216.95,595 L1219.13,595.65 L1221.29,596.31 L1223.45,597 L1225.61,597.7 L1227.76,598.42 L1229.9,599.16 L1232.04,599.92 L1234.17,600.7 L1236.29,601.5 L1238.4,602.31 L1240.51,603.14 L1242.61,603.99 L1244.7,604.86 L1246.79,605.75 L1248.87,606.65 L1250.93,607.58 L1252.99,608.52 L1255.05,609.47 L1257.09,610.45 L1259.13,611.44 L1261.15,612.45 L1263.17,613.48 L1265.18,614.53 L1267.18,615.59 L1269.17,616.67 L1271.15,617.77 L1273.12,618.89 L1275.08,620.02 L1277.03,621.17 L1278.97,622.33 L1280.9,623.51 L1282.82,624.71 L1284.72,625.93 L1286.62,627.16 L1288.51,628.41 L1290.38,629.67 L1292.25,630.95 L1294.1,632.25 L1295.94,633.56 L1297.77,634.89 L1299.59,636.23 L1301.4,637.59 L1303.19,638.97 L1304.97,640.36 L1306.74,641.76 L1308.5,643.18 L1310.25,644.62 L1311.98,646.07 L1313.7,647.54 L1315.4,649.02 L1317.1,650.51 L1318.78,652.02 L1320.44,653.55 L1322.1,655.09 L1323.73,656.64 L1325.36,658.21 L1326.97,659.79 L1328.57,661.39 L1330.15,662.99 L1331.72,664.62 L1333.28,666.25 L1334.82,667.9 L1336.34,669.57 L1337.85,671.24 L1339.35,672.93 L1340.83,674.63 L1342.3,676.35 L1343.75,678.07 L1345.18,679.81 L1346.6,681.56 L1348.01,683.33 L1349.4,685.1 L1350.77,686.89 L1352.13,688.69 L1353.47,690.5 L1354.8,692.33 L1356.11,694.16 L1357.4,696.01 L1358.68,697.86 L1359.94,699.73 L1361.18,701.61 L1362.41,703.5 L1363.62,705.4 L1364.81,707.31 L1365.99,709.23 L1367.15,711.16 L1368.3,713.1 L1369.42,715.05 L1370.53,717.01 L1371.62,718.98 L1372.7,720.96 L1373.75,722.95 L1374.79,724.94 L1375.81,726.95 L1376.82,728.96 L1377.8,730.99 L1378.77,733.02 L1379.72,735.06 L1380.65,737.11 L1381.57,739.16 L1382.46,741.23 L1383.34,743.3 L1384.2,745.38 L1385.04,747.46 L1385.86,749.56 L1386.67,751.66 L1387.45,753.76 L1388.22,755.88 L1388.97,758 L1389.7,760.13 L1390.41,762.26 L1391.1,764.4 L1391.77,766.54 L1392.43,768.69 L1393.06,770.85 L1393.68,773.01 L1394.27,775.18 L1394.85,777.35 L1395.41,779.53 L1395.95,781.71 L1396.47,783.9 L1396.97,786.09 L1397.45,788.28 L1397.91,790.48 L1398.36,792.69 L1398.78,794.89 L1399.18,797.1 L1399.57,799.32 L1399.93,801.53 L1400.28,803.75 L1400.6,805.98 L1400.91,808.2 L1401.2,810.43 L1401.46,812.66 L1401.71,814.89 L1401.94,817.13 L1402.14,819.37 L1402.33,821.6 L1402.5,823.84 L1402.65,826.09 L1402.78,828.33 L1402.89,830.57 L1402.97,832.82 L1403.04,835.06 L1403.09,837.31 L1403.12,839.55 L1403.13,841.8" fill="none" stroke="#000" stroke-width="2.3"/>
<path d="M1143.1,324.93 L1147.64,324.95 L1152.18,325.01 L1156.71,325.11 L1161.25,325.25 L1165.78,325.43 L1170.32,325.64 L1174.85,325.9 L1179.38,326.19 L1183.9,326.53 L1188.43,326.9 L1192.95,327.31 L1197.46,327.76 L1201.97,328.26 L1206.48,328.79 L1210.98,329.36 L1215.48,329.96 L1219.97,330.61 L1224.46,331.3 L1228.94,332.02 L1233.41,332.79 L1237.87,333.59 L1242.33,334.43 L1246.78,335.31 L1251.23,336.23 L1255.66,337.19 L1260.09,338.18 L1264.51,339.21 L1268.92,340.29 L1273.31,341.4 L1277.7,342.55 L1282.08,343.73 L1286.45,344.96 L1290.81,346.22 L1295.15,347.52 L1299.49,348.86 L1303.81,350.23 L1308.12,351.64 L1312.42,353.09 L1316.7,354.58 L1320.97,356.1 L1325.23,357.67 L1329.48,359.26 L1333.71,360.9 L1337.92,362.57 L1342.12,364.28 L1346.31,366.02 L1350.48,367.8 L1354.63,369.62 L1358.77,371.47 L1362.89,373.36 L1366.99,375.28 L1371.08,377.24 L1375.15,379.24 L1379.21,381.27 L1383.24,383.33 L1387.26,385.43 L1391.25,387.57 L1395.23,389.74 L1399.19,391.94 L1403.13,394.18 L1407.05,396.45 L1410.95,398.76 L1414.83,401.1 L1418.69,403.47 L1422.53,405.88 L1426.35,408.32 L1430.14,410.79 L1433.92,413.3 L1437.67,415.84 L1441.4,418.41 L1445.1,421.01 L1448.79,423.65 L1452.45,426.31 L1456.08,429.01 L1459.7,431.74 L1463.29,434.5 L1466.85,437.3 L1470.39,440.12 L1473.9,442.97 L1477.39,445.86 L1480.86,448.77 L1484.29,451.72 L1487.71,454.69 L1491.09,457.69 L1494.45,460.73 L1497.78,463.79 L1501.09,466.88 L1504.37,470 L1507.62,473.14 L1510.84,476.32 L1514.04,479.52 L1517.2,482.75 L1520.34,486.01 L1523.45,489.3 L1526.53,492.61 L1529.58,495.95 L1532.61,499.31 L1535.6,502.7 L1538.56,506.12 L1541.49,509.56 L1544.4,513.03 L1547.27,516.53 L1550.11,520.04 L1552.92,523.59 L1555.7,527.15 L1558.44,530.74 L1561.16,534.36 L1563.84,537.99 L1566.49,541.65 L1569.11,545.34 L1571.7,549.04 L1574.25,552.77 L1576.78,556.52 L1579.26,560.29 L1581.72,564.09 L1584.14,567.9 L1586.53,571.74 L1588.88,575.59 L1591.2,579.47 L1593.49,583.37 L1595.74,587.28 L1597.96,591.22 L1600.14,595.17 L1602.29,599.15 L1604.4,603.14 L1606.48,607.15 L1608.53,611.18 L1610.53,615.22 L1612.5,619.28 L1614.44,623.36 L1616.34,627.46 L1618.2,631.57 L1620.03,635.7 L1621.82,639.84 L1623.58,644 L1625.3,648.18 L1626.98,652.37 L1628.62,656.57 L1630.23,660.79 L1631.8,665.02 L1633.34,669.27 L1634.83,673.52 L1636.29,677.8 L1637.71,682.08 L1639.1,686.38 L1640.44,690.68 L1641.75,695 L1643.02,699.33 L1644.25,703.67 L1645.45,708.03 L1646.6,712.39 L1647.72,716.76 L1648.8,721.14 L1649.84,725.53 L1650.84,729.93 L1651.8,734.34 L1652.73,738.75 L1653.61,743.18 L1654.46,747.61 L1655.27,752.05 L1656.03,756.49 L1656.76,760.94 L1657.45,765.4 L1658.11,769.87 L1658.72,774.34 L1659.29,778.81 L1659.82,783.29 L1660.32,787.77 L1660.77,792.26 L1661.19,796.75 L1661.56,801.25 L1661.9,805.75 L1662.2,810.25 L1662.45,814.75 L1662.67,819.25 L1662.85,823.76 L1662.99,828.27 L1663.09,832.78 L1663.15,837.29 L1663.17,841.8" fill="none" stroke="#000" stroke-width="2.3"/>
<path d="M1143.1,66.5 L1149.91,66.53 L1156.71,66.62 L1163.52,66.77 L1170.33,66.97 L1177.13,67.24 L1183.93,67.56 L1190.72,67.95 L1197.52,68.39 L1204.31,68.89 L1211.09,69.45 L1217.87,70.07 L1224.64,70.75 L1231.41,71.48 L1238.17,72.28 L1244.92,73.13 L1251.67,74.05 L1258.41,75.02 L1265.13,76.05 L1271.85,77.13 L1278.56,78.28 L1285.26,79.48 L1291.95,80.74 L1298.63,82.06 L1305.29,83.44 L1311.94,84.88 L1318.58,86.37 L1325.21,87.92 L1331.82,89.53 L1338.42,91.2 L1345,92.92 L1351.57,94.7 L1358.12,96.53 L1364.66,98.43 L1371.18,100.38 L1377.68,102.38 L1384.16,104.45 L1390.63,106.56 L1397.08,108.74 L1403.5,110.97 L1409.91,113.26 L1416.3,115.6 L1422.66,118 L1429.01,120.45 L1435.33,122.95 L1441.63,125.52 L1447.91,128.13 L1454.16,130.8 L1460.4,133.53 L1466.6,136.31 L1472.78,139.14 L1478.94,142.03 L1485.07,144.96 L1491.18,147.96 L1497.26,151 L1503.31,154.1 L1509.33,157.25 L1515.33,160.45 L1521.3,163.71 L1527.24,167.01 L1533.15,170.37 L1539.03,173.78 L1544.88,177.24 L1550.7,180.75 L1556.49,184.31 L1562.25,187.92 L1567.97,191.58 L1573.67,195.29 L1579.33,199.05 L1584.95,202.85 L1590.55,206.71 L1596.11,210.62 L1601.63,214.57 L1607.12,218.57 L1612.58,222.62 L1617.99,226.71 L1623.38,230.86 L1628.72,235.04 L1634.03,239.28 L1639.3,243.56 L1644.54,247.89 L1649.73,252.26 L1654.89,256.67 L1660.01,261.13 L1665.09,265.64 L1670.13,270.19 L1675.13,274.78 L1680.09,279.42 L1685,284.1 L1689.88,288.82 L1694.71,293.58 L1699.51,298.39 L1704.26,303.23 L1708.96,308.12 L1713.63,313.05 L1718.25,318.01 L1722.83,323.02 L1727.36,328.07 L1731.85,333.16 L1736.29,338.28 L1740.69,343.45 L1745.04,348.65 L1749.35,353.89 L1753.61,359.16 L1757.83,364.48 L1761.99,369.83 L1766.12,375.21 L1770.19,380.63 L1774.21,386.09 L1778.19,391.58 L1782.12,397.11 L1786,402.67 L1789.83,408.26 L1793.61,413.88 L1797.35,419.54 L1801.03,425.23 L1804.66,430.95 L1808.24,436.71 L1811.78,442.49 L1815.26,448.31 L1818.69,454.15 L1822.06,460.02 L1825.39,465.93 L1828.67,471.86 L1831.89,477.82 L1835.06,483.81 L1838.17,489.82 L1841.24,495.86 L1844.25,501.93 L1847.21,508.02 L1850.11,514.14 L1852.96,520.29 L1855.76,526.46 L1858.5,532.65 L1861.19,538.87 L1863.82,545.11 L1866.4,551.37 L1868.92,557.65 L1871.39,563.96 L1873.8,570.28 L1876.15,576.63 L1878.45,583 L1880.7,589.39 L1882.89,595.79 L1885.02,602.22 L1887.09,608.66 L1889.11,615.12 L1891.08,621.6 L1892.98,628.1 L1894.83,634.61 L1896.62,641.14 L1898.35,647.68 L1900.03,654.24 L1901.65,660.81 L1903.21,667.4 L1904.71,673.99 L1906.15,680.61 L1907.54,687.23 L1908.87,693.87 L1910.14,700.51 L1911.35,707.17 L1912.5,713.84 L1913.6,720.52 L1914.63,727.2 L1915.61,733.9 L1916.53,740.6 L1917.39,747.31 L1918.19,754.03 L1918.93,760.76 L1919.61,767.49 L1920.23,774.23 L1920.8,780.97 L1921.3,787.72 L1921.74,794.47 L1922.13,801.22 L1922.46,807.98 L1922.72,814.74 L1922.93,821.51 L1923.08,828.27 L1923.17,835.03 L1923.2,841.8" fill="none" stroke="#000" stroke-width="2.5"/>
<path d="M1143.1,66.5L1143.1,841.8L1923.2,841.8" fill="none" stroke="#000" stroke-width="1.6"/>
<path d="M1538.78,841.8 L1538.8,840.3 L1538.84,838.8 L1538.9,837.3 L1539,835.81 L1539.11,834.31 L1539.26,832.82 L1539.43,831.33 L1539.63,829.85 L1539.85,828.36 L1540.1,826.88 L1540.38,825.41 L1540.68,823.94 L1541.01,822.48 L1541.36,821.02 L1541.74,819.57 L1542.14,818.12 L1542.57,816.69 L1543.03,815.26 L1543.51,813.83 L1544.01,812.42 L1544.54,811.02 L1545.1,809.62 L1545.67,808.24 L1546.28,806.86 L1546.91,805.5 L1547.56,804.14 L1548.23,802.8 L1548.93,801.47 L1549.65,800.15 L1550.4,798.85 L1551.16,797.56 L1551.95,796.28 L1552.77,795.02 L1553.6,793.77 L1554.46,792.53 L1555.34,791.31 L1556.24,790.1 L1557.16,788.91 L1558.1,787.74 L1559.06,786.58 L1560.05,785.44 L1561.05,784.32 L1562.07,783.22 L1563.11,782.13 L1564.17,781.06 L1565.25,780.01 L1566.35,778.98 L1567.46,777.96 L1568.6,776.97 L1569.75,776 L1570.91,775.04 L1572.1,774.11 L1573.3,773.2 L1574.51,772.31 L1575.75,771.43 L1576.99,770.59 L1578.25,769.76 L1579.53,768.95 L1580.82,768.17 L1582.12,767.41 L1583.44,766.67 L1584.77,765.95 L1586.11,765.26 L1587.46,764.59 L1588.83,763.95 L1590.21,763.33 L1591.59,762.73 L1592.99,762.15 L1594.4,761.61 L1595.82,761.08 L1597.24,760.58 L1598.68,760.1 L1600.12,759.65 L1601.57,759.23 L1603.03,758.83 L1604.49,758.45 L1605.96,758.1 L1607.44,757.78 L1608.92,757.48 L1610.41,757.21 L1611.9,756.96 L1613.4,756.74 L1614.9,756.54 L1616.4,756.37 L1617.91,756.23 L1619.42,756.11 L1620.93,756.02 L1622.44,755.95 L1623.95,755.91 L1625.46,755.9 L1626.97,755.91 L1628.49,755.95 L1630,756.02 L1631.51,756.11 L1633.02,756.23 L1634.52,756.37 L1636.03,756.54 L1637.53,756.74 L1639.02,756.96 L1640.51,757.21 L1642,757.48 L1643.48,757.78 L1644.96,758.1 L1646.43,758.45 L1647.9,758.83 L1649.35,759.23 L1650.8,759.65 L1652.25,760.1 L1653.68,760.58 L1655.11,761.08 L1656.52,761.61 L1657.93,762.15 L1659.33,762.73 L1660.72,763.33 L1662.09,763.95 L1663.46,764.59 L1664.81,765.26 L1666.15,765.95 L1667.48,766.67 L1668.8,767.41 L1670.1,768.17 L1671.39,768.95 L1672.67,769.76 L1673.93,770.59 L1675.18,771.43 L1676.41,772.31 L1677.63,773.2 L1678.83,774.11 L1680.01,775.04 L1681.18,776 L1682.33,776.97 L1683.46,777.96 L1684.58,778.98 L1685.67,780.01 L1686.75,781.06 L1687.81,782.13 L1688.85,783.22 L1689.88,784.32 L1690.88,785.44 L1691.86,786.58 L1692.82,787.74 L1693.76,788.91 L1694.69,790.1 L1695.59,791.31 L1696.46,792.53 L1697.32,793.77 L1698.16,795.02 L1698.97,796.28 L1699.76,797.56 L1700.53,798.85 L1701.27,800.15 L1701.99,801.47 L1702.69,802.8 L1703.37,804.14 L1704.02,805.5 L1704.65,806.86 L1705.25,808.24 L1705.83,809.62 L1706.38,811.02 L1706.91,812.42 L1707.42,813.83 L1707.9,815.26 L1708.35,816.69 L1708.78,818.12 L1709.19,819.57 L1709.56,821.02 L1709.92,822.48 L1710.25,823.94 L1710.55,825.41 L1710.82,826.88 L1711.07,828.36 L1711.3,829.85 L1711.49,831.33 L1711.66,832.82 L1711.81,834.31 L1711.93,835.81 L1712.02,837.3 L1712.09,838.8 L1712.13,840.3 L1712.14,841.8" fill="none" stroke="#92D050" stroke-width="4.5"/>
<path d="M1452.11,841.8 L1452.13,838.8 L1452.21,835.8 L1452.34,832.81 L1452.53,829.82 L1452.77,826.83 L1453.06,823.84 L1453.4,820.86 L1453.79,817.89 L1454.24,814.92 L1454.74,811.97 L1455.29,809.02 L1455.89,806.08 L1456.55,803.15 L1457.26,800.24 L1458.01,797.33 L1458.82,794.45 L1459.68,791.57 L1460.59,788.71 L1461.55,785.87 L1462.56,783.04 L1463.62,780.23 L1464.73,777.44 L1465.89,774.67 L1467.09,771.92 L1468.35,769.19 L1469.65,766.49 L1471,763.8 L1472.4,761.14 L1473.84,758.51 L1475.33,755.9 L1476.87,753.32 L1478.45,750.76 L1480.07,748.23 L1481.74,745.73 L1483.46,743.26 L1485.21,740.82 L1487.01,738.41 L1488.86,736.03 L1490.74,733.68 L1492.66,731.37 L1494.63,729.09 L1496.63,726.84 L1498.68,724.63 L1500.76,722.46 L1502.88,720.32 L1505.04,718.22 L1507.23,716.15 L1509.46,714.13 L1511.73,712.14 L1514.03,710.19 L1516.37,708.29 L1518.73,706.42 L1521.13,704.59 L1523.57,702.81 L1526.03,701.07 L1528.52,699.37 L1531.05,697.72 L1533.6,696.11 L1536.18,694.54 L1538.78,693.02 L1541.42,691.54 L1544.08,690.11 L1546.76,688.73 L1549.47,687.39 L1552.2,686.1 L1554.95,684.85 L1557.73,683.66 L1560.52,682.51 L1563.34,681.41 L1566.17,680.36 L1569.02,679.36 L1571.89,678.41 L1574.78,677.51 L1577.68,676.66 L1580.59,675.85 L1583.52,675.1 L1586.47,674.4 L1589.42,673.75 L1592.38,673.16 L1595.36,672.61 L1598.34,672.12 L1601.34,671.67 L1604.34,671.28 L1607.34,670.94 L1610.35,670.65 L1613.37,670.42 L1616.39,670.24 L1619.41,670.1 L1622.44,670.03 L1625.46,670 L1628.49,670.03 L1631.51,670.1 L1634.53,670.24 L1637.55,670.42 L1640.57,670.65 L1643.58,670.94 L1646.59,671.28 L1649.59,671.67 L1652.58,672.12 L1655.56,672.61 L1658.54,673.16 L1661.5,673.75 L1664.46,674.4 L1667.4,675.1 L1670.33,675.85 L1673.25,676.66 L1676.15,677.51 L1679.03,678.41 L1681.9,679.36 L1684.75,680.36 L1687.59,681.41 L1690.4,682.51 L1693.2,683.66 L1695.97,684.85 L1698.73,686.1 L1701.46,687.39 L1704.16,688.73 L1706.85,690.11 L1709.51,691.54 L1712.14,693.02 L1714.75,694.54 L1717.33,696.11 L1719.88,697.72 L1722.4,699.37 L1724.89,701.07 L1727.36,702.81 L1729.79,704.59 L1732.19,706.42 L1734.56,708.29 L1736.89,710.19 L1739.19,712.14 L1741.46,714.13 L1743.69,716.15 L1745.88,718.22 L1748.04,720.32 L1750.16,722.46 L1752.25,724.63 L1754.29,726.84 L1756.29,729.09 L1758.26,731.37 L1760.18,733.68 L1762.07,736.03 L1763.91,738.41 L1765.71,740.82 L1767.47,743.26 L1769.18,745.73 L1770.85,748.23 L1772.48,750.76 L1774.06,753.32 L1775.59,755.9 L1777.08,758.51 L1778.53,761.14 L1779.92,763.8 L1781.27,766.49 L1782.58,769.19 L1783.83,771.92 L1785.04,774.67 L1786.19,777.44 L1787.3,780.23 L1788.36,783.04 L1789.37,785.87 L1790.33,788.71 L1791.24,791.57 L1792.1,794.45 L1792.91,797.33 L1793.67,800.24 L1794.37,803.15 L1795.03,806.08 L1795.63,809.02 L1796.18,811.97 L1796.68,814.92 L1797.13,817.89 L1797.53,820.86 L1797.87,823.84 L1798.16,826.83 L1798.4,829.82 L1798.58,832.81 L1798.71,835.8 L1798.79,838.8 L1798.82,841.8" fill="none" stroke="#92D050" stroke-width="4.5"/>
<path d="M1365.43,841.8 L1365.47,837.3 L1365.59,832.81 L1365.78,828.31 L1366.06,823.82 L1366.42,819.34 L1366.85,814.86 L1367.37,810.39 L1367.96,805.94 L1368.63,801.49 L1369.38,797.05 L1370.21,792.63 L1371.11,788.22 L1372.09,783.83 L1373.15,779.46 L1374.29,775.1 L1375.5,770.77 L1376.79,766.46 L1378.16,762.17 L1379.6,757.9 L1381.11,753.66 L1382.7,749.45 L1384.36,745.26 L1386.1,741.11 L1387.91,736.98 L1389.79,732.89 L1391.75,728.83 L1393.77,724.81 L1395.87,720.82 L1398.03,716.86 L1400.27,712.95 L1402.57,709.07 L1404.94,705.24 L1407.38,701.45 L1409.88,697.7 L1412.45,693.99 L1415.09,690.33 L1417.79,686.71 L1420.55,683.14 L1423.38,679.62 L1426.26,676.15 L1429.21,672.73 L1432.22,669.37 L1435.29,666.05 L1438.41,662.79 L1441.59,659.58 L1444.83,656.43 L1448.12,653.33 L1451.47,650.29 L1454.86,647.31 L1458.32,644.39 L1461.82,641.53 L1465.37,638.73 L1468.97,635.99 L1472.62,633.32 L1476.31,630.7 L1480.05,628.16 L1483.84,625.67 L1487.67,623.26 L1491.53,620.91 L1495.45,618.63 L1499.4,616.41 L1503.38,614.26 L1507.41,612.19 L1511.47,610.18 L1515.57,608.24 L1519.7,606.38 L1523.86,604.59 L1528.05,602.86 L1532.27,601.22 L1536.53,599.64 L1540.8,598.14 L1545.11,596.71 L1549.44,595.36 L1553.79,594.08 L1558.16,592.88 L1562.55,591.75 L1566.97,590.7 L1571.4,589.73 L1575.85,588.83 L1580.31,588.02 L1584.78,587.27 L1589.27,586.61 L1593.77,586.02 L1598.28,585.51 L1602.8,585.08 L1607.32,584.73 L1611.85,584.45 L1616.39,584.26 L1620.92,584.14 L1625.46,584.1 L1630,584.14 L1634.54,584.26 L1639.07,584.45 L1643.6,584.73 L1648.13,585.08 L1652.64,585.51 L1657.15,586.02 L1661.65,586.61 L1666.14,587.27 L1670.62,588.02 L1675.08,588.83 L1679.53,589.73 L1683.96,590.7 L1688.37,591.75 L1692.76,592.88 L1697.14,594.08 L1701.49,595.36 L1705.82,596.71 L1710.12,598.14 L1714.4,599.64 L1718.65,601.22 L1722.87,602.86 L1727.06,604.59 L1731.23,606.38 L1735.36,608.24 L1739.45,610.18 L1743.51,612.19 L1747.54,614.26 L1751.53,616.41 L1755.48,618.63 L1759.39,620.91 L1763.26,623.26 L1767.09,625.67 L1770.87,628.16 L1774.61,630.7 L1778.31,633.32 L1781.95,635.99 L1785.55,638.73 L1789.11,641.53 L1792.61,644.39 L1796.06,647.31 L1799.46,650.29 L1802.8,653.33 L1806.1,656.43 L1809.33,659.58 L1812.51,662.79 L1815.64,666.05 L1818.7,669.37 L1821.71,672.73 L1824.66,676.15 L1827.55,679.62 L1830.37,683.14 L1833.13,686.71 L1835.83,690.33 L1838.47,693.99 L1841.04,697.7 L1843.54,701.45 L1845.98,705.24 L1848.35,709.07 L1850.66,712.95 L1852.89,716.86 L1855.06,720.82 L1857.15,724.81 L1859.18,728.83 L1861.13,732.89 L1863.01,736.98 L1864.82,741.11 L1866.56,745.26 L1868.22,749.45 L1869.81,753.66 L1871.33,757.9 L1872.77,762.17 L1874.13,766.46 L1875.42,770.77 L1876.63,775.1 L1877.77,779.46 L1878.83,783.83 L1879.81,788.22 L1880.72,792.63 L1881.54,797.05 L1882.29,801.49 L1882.96,805.94 L1883.56,810.39 L1884.07,814.86 L1884.51,819.34 L1884.86,823.82 L1885.14,828.31 L1885.34,832.81 L1885.46,837.3 L1885.5,841.8" fill="none" stroke="#92D050" stroke-width="4.5"/>
<path d="M1278.75,841.8 L1278.79,836.8 L1278.9,831.81 L1279.08,826.81 L1279.34,821.82 L1279.67,816.83 L1280.07,811.85 L1280.55,806.88 L1281.1,801.91 L1281.72,796.95 L1282.41,792 L1283.18,787.06 L1284.02,782.13 L1284.93,777.22 L1285.91,772.32 L1286.97,767.43 L1288.1,762.56 L1289.29,757.71 L1290.56,752.87 L1291.91,748.05 L1293.32,743.25 L1294.8,738.48 L1296.35,733.72 L1297.97,728.99 L1299.66,724.28 L1301.42,719.6 L1303.25,714.94 L1305.14,710.31 L1307.11,705.71 L1309.14,701.13 L1311.23,696.59 L1313.4,692.07 L1315.63,687.59 L1317.93,683.14 L1320.29,678.73 L1322.71,674.35 L1325.2,670 L1327.75,665.69 L1330.37,661.42 L1333.05,657.18 L1335.79,652.99 L1338.59,648.83 L1341.45,644.72 L1344.38,640.65 L1347.36,636.62 L1350.4,632.63 L1353.5,628.69 L1356.65,624.79 L1359.87,620.94 L1363.14,617.13 L1366.46,613.38 L1369.84,609.67 L1373.27,606.01 L1376.76,602.4 L1380.3,598.84 L1383.89,595.33 L1387.53,591.87 L1391.23,588.47 L1394.97,585.12 L1398.76,581.83 L1402.6,578.59 L1406.49,575.4 L1410.42,572.27 L1414.4,569.2 L1418.42,566.19 L1422.49,563.24 L1426.6,560.34 L1430.75,557.5 L1434.94,554.73 L1439.17,552.01 L1443.45,549.36 L1447.76,546.76 L1452.11,544.23 L1456.49,541.77 L1460.91,539.36 L1465.37,537.02 L1469.86,534.75 L1474.38,532.54 L1478.94,530.39 L1483.52,528.31 L1488.14,526.3 L1492.78,524.35 L1497.45,522.48 L1502.15,520.66 L1506.88,518.92 L1511.63,517.25 L1516.41,515.64 L1521.2,514.1 L1526.02,512.63 L1530.87,511.24 L1535.73,509.91 L1540.61,508.65 L1545.5,507.46 L1550.42,506.34 L1555.35,505.3 L1560.3,504.32 L1565.26,503.42 L1570.23,502.59 L1575.21,501.83 L1580.21,501.14 L1585.21,500.52 L1590.22,499.98 L1595.24,499.51 L1600.27,499.11 L1605.3,498.78 L1610.34,498.53 L1615.38,498.35 L1620.42,498.24 L1625.46,498.2 L1630.5,498.24 L1635.55,498.35 L1640.59,498.53 L1645.62,498.78 L1650.65,499.11 L1655.68,499.51 L1660.7,499.98 L1665.71,500.52 L1670.72,501.14 L1675.71,501.83 L1680.7,502.59 L1685.67,503.42 L1690.63,504.32 L1695.57,505.3 L1700.5,506.34 L1705.42,507.46 L1710.32,508.65 L1715.2,509.91 L1720.06,511.24 L1724.9,512.63 L1729.72,514.1 L1734.52,515.64 L1739.29,517.25 L1744.04,518.92 L1748.77,520.66 L1753.47,522.48 L1758.14,524.35 L1762.79,526.3 L1767.4,528.31 L1771.99,530.39 L1776.54,532.54 L1781.07,534.75 L1785.56,537.02 L1790.01,539.36 L1794.43,541.77 L1798.82,544.23 L1803.17,546.76 L1807.48,549.36 L1811.75,552.01 L1815.98,554.73 L1820.18,557.5 L1824.33,560.34 L1828.44,563.24 L1832.5,566.19 L1836.53,569.2 L1840.5,572.27 L1844.44,575.4 L1848.32,578.59 L1852.16,581.83 L1855.95,585.12 L1859.7,588.47 L1863.39,591.87 L1867.03,595.33 L1870.62,598.84 L1874.16,602.4 L1877.65,606.01 L1881.08,609.67 L1884.46,613.38 L1887.79,617.13 L1891.06,620.94 L1894.27,624.79 L1897.43,628.69 L1900.53,632.63 L1903.57,636.62 L1906.55,640.65 L1909.47,644.72 L1912.33,648.83 L1915.13,652.99 L1917.88,657.18 L1920.55,661.42 L1923.17,665.69 L1925.72,670" fill="none" stroke="#92D050" stroke-width="4.5"/>
<path d="M1625.46,841.8 L1625.44,837.63 L1625.39,833.45 L1625.3,829.28 L1625.17,825.11 L1625,820.94 L1624.8,816.77 L1624.56,812.6 L1624.29,808.44 L1623.97,804.27 L1623.63,800.11 L1623.24,795.96 L1622.82,791.8 L1622.36,787.65 L1621.87,783.51 L1621.34,779.37 L1620.77,775.23 L1620.16,771.1 L1619.52,766.98 L1618.85,762.86 L1618.13,758.74 L1617.38,754.64 L1616.6,750.54 L1615.78,746.44 L1614.92,742.36 L1614.03,738.28 L1613.1,734.21 L1612.13,730.14 L1611.13,726.09 L1610.1,722.04 L1609.03,718.01 L1607.92,713.98 L1606.78,709.96 L1605.6,705.96 L1604.38,701.96 L1603.14,697.97 L1601.85,694 L1600.54,690.03 L1599.18,686.08 L1597.79,682.14 L1596.37,678.21 L1594.91,674.3 L1593.42,670.39 L1591.9,666.5 L1590.34,662.63 L1588.74,658.76 L1587.12,654.91 L1585.45,651.08 L1583.76,647.26 L1582.03,643.45 L1580.27,639.66 L1578.47,635.89 L1576.64,632.13 L1574.78,628.38 L1572.89,624.66 L1570.96,620.95 L1569,617.25 L1567.01,613.57 L1564.98,609.92 L1562.93,606.27 L1560.84,602.65 L1558.72,599.04 L1556.56,595.46 L1554.38,591.89 L1552.17,588.34 L1549.92,584.81 L1547.64,581.3 L1545.33,577.81 L1543,574.34 L1540.63,570.89 L1538.23,567.46 L1535.8,564.05 L1533.34,560.66 L1530.85,557.3 L1528.33,553.95 L1525.78,550.63 L1523.21,547.33 L1520.6,544.05 L1517.97,540.8 L1515.3,537.56 L1512.61,534.35 L1509.89,531.17 L1507.14,528.01 L1504.37,524.87 L1501.56,521.75 L1498.73,518.67 L1495.88,515.6 L1492.99,512.56 L1490.08,509.54 L1487.14,506.56 L1484.18,503.59 L1481.19,500.65 L1478.18,497.74 L1475.14,494.85 L1472.07,491.99 L1468.98,489.16 L1465.86,486.35 L1462.72,483.57 L1459.56,480.82 L1456.37,478.1 L1453.16,475.4 L1449.92,472.73 L1446.66,470.09 L1443.38,467.48 L1440.07,464.89 L1436.74,462.34 L1433.39,459.81 L1430.02,457.32 L1426.63,454.85 L1423.21,452.41 L1419.77,450 L1416.31,447.62 L1412.83,445.27 L1409.33,442.95 L1405.81,440.66 L1402.27,438.41 L1398.71,436.18 L1395.13,433.98 L1391.53,431.82 L1387.92,429.68 L1384.28,427.58 L1380.63,425.51 L1376.95,423.47 L1373.26,421.46 L1369.56,419.49 L1365.83,417.54 L1362.09,415.63 L1358.33,413.75 L1354.55,411.91 L1350.76,410.09 L1346.95,408.31 L1343.13,406.57 L1339.29,404.85 L1335.44,403.17 L1331.57,401.52 L1327.69,399.91 L1323.8,398.33 L1319.89,396.78 L1315.96,395.27 L1312.03,393.79 L1308.08,392.35 L1304.12,390.93 L1300.14,389.56 L1296.16,388.22 L1292.16,386.91 L1288.15,385.64 L1284.13,384.4 L1280.1,383.2 L1276.06,382.03 L1272.01,380.9 L1267.94,379.8 L1263.87,378.73 L1259.79,377.71 L1255.71,376.72 L1251.61,375.76 L1247.5,374.84 L1243.39,373.95 L1239.27,373.1 L1235.14,372.29 L1231,371.51 L1226.86,370.77 L1222.71,370.06 L1218.56,369.39 L1214.4,368.75 L1210.23,368.15 L1206.06,367.59 L1201.89,367.07 L1197.7,366.57 L1193.52,366.12 L1189.33,365.7 L1185.14,365.32 L1180.95,364.97 L1176.75,364.67 L1172.55,364.39 L1168.34,364.16 L1164.14,363.96 L1159.93,363.79 L1155.73,363.66 L1151.52,363.57 L1147.31,363.52 L1143.1,363.5" fill="none" stroke="#FF0000" stroke-width="3" stroke-dasharray="10.5 10"/>
<path d="M1143.1,841.8L1221.11,70.39" fill="none" stroke="#4472C4" stroke-width="2.6" stroke-dasharray="10.8 9.7"/>
<path d="M1221.11,70.39L1299.12,82.16" fill="none" stroke="#4472C4" stroke-width="2.6" stroke-dasharray="10.8 9.7"/>
<path d="M1299.12,82.16L1143.1,841.8" fill="none" stroke="#4472C4" stroke-width="2.6" stroke-dasharray="10.8 9.7"/>
<path d="M1143.1,841.8L1377.13,102.21" fill="none" stroke="#4472C4" stroke-width="2.6" stroke-dasharray="10.8 9.7"/>
<path d="M1377.13,102.21L1455.14,131.23" fill="none" stroke="#4472C4" stroke-width="2.6" stroke-dasharray="10.8 9.7"/>
<path d="M1455.14,131.23L1143.1,841.8" fill="none" stroke="#4472C4" stroke-width="2.6" stroke-dasharray="10.8 9.7"/>
<path d="M1143.1,841.8L1533.15,170.37" fill="none" stroke="#4472C4" stroke-width="2.6" stroke-dasharray="10.8 9.7"/>
<path d="M1533.15,170.37L1611.16,221.56" fill="none" stroke="#4472C4" stroke-width="2.6" stroke-dasharray="10.8 9.7"/>
<path d="M1611.16,221.56L1143.1,841.8" fill="none" stroke="#4472C4" stroke-width="2.6" stroke-dasharray="10.8 9.7"/>
<path d="M1143.1,841.8L1689.17,288.13" fill="none" stroke="#4472C4" stroke-width="2.6" stroke-dasharray="10.8 9.7"/>
<path d="M1689.17,288.13L1767.18,376.62" fill="none" stroke="#4472C4" stroke-width="2.6" stroke-dasharray="10.8 9.7"/>
<path d="M1767.18,376.62L1143.1,841.8" fill="none" stroke="#4472C4" stroke-width="2.6" stroke-dasharray="10.8 9.7"/>
<path d="M1143.1,841.8L1845.19,503.85" fill="none" stroke="#4472C4" stroke-width="2.6" stroke-dasharray="10.8 9.7"/>
<path d="M1845.19,503.85L1884.19,599.71" fill="none" stroke="#4472C4" stroke-width="2.6" stroke-dasharray="10.8 9.7"/>
<path d="M1884.19,599.71L1143.1,841.8" fill="none" stroke="#4472C4" stroke-width="2.6" stroke-dasharray="10.8 9.7"/>
<path d="M1143.1,841.8L1915.4,732.43" fill="none" stroke="#4472C4" stroke-width="2.6" stroke-dasharray="10.8 9.7"/>
<g transform="translate(1333.72,616.29) rotate(-36)"><rect x="-2" y="-25" width="142.51" height="32.5" fill="#fff"/><text x="0" y="0" font-family="Carlito,Calibri,'Liberation Sans',sans-serif" font-size="33.7" textLength="138.45" lengthAdjust="spacingAndGlyphs">RMSE=8.0</text></g>
<g transform="translate(1381.79,686.65) rotate(-36.3)"><rect x="-2" y="-25" width="142.51" height="32.5" fill="#fff"/><text x="0" y="0" font-family="Carlito,Calibri,'Liberation Sans',sans-serif" font-size="33.7" textLength="138.45" lengthAdjust="spacingAndGlyphs">RMSE=6.0</text></g>
<g transform="translate(1453.79,739.53) rotate(-34.8)"><rect x="-2" y="-25" width="142.51" height="32.5" fill="#fff"/><text x="0" y="0" font-family="Carlito,Calibri,'Liberation Sans',sans-serif" font-size="33.7" textLength="138.45" lengthAdjust="spacingAndGlyphs">RMSE=4.0</text></g>
<g transform="translate(1509.09,808.45) rotate(-35.5)"><rect x="-2" y="-25" width="142.51" height="32.5" fill="#fff"/><text x="0" y="0" font-family="Carlito,Calibri,'Liberation Sans',sans-serif" font-size="33.7" textLength="138.45" lengthAdjust="spacingAndGlyphs">RMSE=2.0</text></g>
<g transform="translate(1235.52,69.24) rotate(-84.23)"><clipPath id="clR0"><rect x="-5" y="-40" width="63" height="60"/></clipPath><text clip-path="url(#clR0)" font-family="Carlito,Calibri,'Liberation Sans',sans-serif" font-size="34" textLength="60.28" lengthAdjust="spacingAndGlyphs">0.10</text></g>
<g transform="translate(1315.98,82.62) rotate(-78.39)"><clipPath id="clR1"><rect x="-5" y="-40" width="61" height="60"/></clipPath><text clip-path="url(#clR1)" font-family="Carlito,Calibri,'Liberation Sans',sans-serif" font-size="34" textLength="60.28" lengthAdjust="spacingAndGlyphs">0.20</text></g>
<g transform="translate(1391.22,99.2) rotate(-72.44)"><clipPath id="clR2"><rect x="-5" y="-40" width="61" height="60"/></clipPath><text clip-path="url(#clR2)" font-family="Carlito,Calibri,'Liberation Sans',sans-serif" font-size="34" textLength="60.28" lengthAdjust="spacingAndGlyphs">0.30</text></g>
<g transform="translate(1475.33,130.58) rotate(-66.29)"><clipPath id="clR3"><rect x="-5" y="-40" width="61" height="60"/></clipPath><text clip-path="url(#clR3)" font-family="Carlito,Calibri,'Liberation Sans',sans-serif" font-size="34" textLength="60.28" lengthAdjust="spacingAndGlyphs">0.40</text></g>
<g transform="translate(1551.8,175.15) rotate(-59.85)"><clipPath id="clR4"><rect x="-5" y="-40" width="62" height="60"/></clipPath><text clip-path="url(#clR4)" font-family="Carlito,Calibri,'Liberation Sans',sans-serif" font-size="34" textLength="60.28" lengthAdjust="spacingAndGlyphs">0.50</text></g>
<text transform="translate(1630.2,224.08) rotate(-52.96)" font-family="Carlito,Calibri,'Liberation Sans',sans-serif" font-size="34" textLength="60.28" lengthAdjust="spacingAndGlyphs">0.60</text>
<g transform="translate(1514.55,39.8) rotate(38.9)"><clipPath id="ccR"><rect x="-5" y="-40" width="304" height="60"/></clipPath><rect x="-3" y="-27" width="302" height="37" fill="#fff"/><text clip-path="url(#ccR)" x="0" y="0" font-family="Carlito,Calibri,'Liberation Sans',sans-serif" font-size="33.7" textLength="303.75" lengthAdjust="spacingAndGlyphs">Correlation coefficient</text></g>
<text transform="translate(1705.78,289.23) rotate(-45.4)" font-family="Carlito,Calibri,'Liberation Sans',sans-serif" font-size="34" textLength="60.28" lengthAdjust="spacingAndGlyphs">0.70</text>
<text transform="translate(1784.35,380.44) rotate(-36.7)" font-family="Carlito,Calibri,'Liberation Sans',sans-serif" font-size="34" textLength="60.28" lengthAdjust="spacingAndGlyphs">0.80</text>
<text transform="translate(1856.98,510.52) rotate(-25.7)" font-family="Carlito,Calibri,'Liberation Sans',sans-serif" font-size="34" textLength="60.28" lengthAdjust="spacingAndGlyphs">0.90</text>
<text transform="translate(1895.49,603.2) rotate(-18.09)" font-family="Carlito,Calibri,'Liberation Sans',sans-serif" font-size="34" textLength="60.28" lengthAdjust="spacingAndGlyphs">0.95</text>
<text transform="translate(1922.97,737.56) rotate(-8.06)" font-family="Carlito,Calibri,'Liberation Sans',sans-serif" font-size="34" textLength="60.28" lengthAdjust="spacingAndGlyphs">0.99</text>
<circle cx="1625.9" cy="843.3" r="12.4" fill="#FF0000"/>
<circle cx="1487.7" cy="577.5" r="9.5" fill="none" stroke="#FF0000" stroke-width="3.8"/>
<path d="M1695.3,685.01L1704.59,694.3L1695.3,703.59L1686.01,694.3Z" stroke="#FF0000" stroke-width="2.8" fill="none"/>
<path d="M1698.02,693.3L1719.98,693.3M1709,682.32L1709,704.28" stroke="#FF0000" stroke-width="4.6" fill="none"/>
<path d="M1713.86,697.96L1735.94,720.04M1713.86,720.04L1735.94,697.96" stroke="#FF0000" stroke-width="3.0" fill="none"/>
<path d="M1746,727.21L1755.29,745.32L1736.71,745.32Z" stroke="#FF0000" stroke-width="3" fill="none" stroke-linejoin="miter"/>
<path d="M1747,748.87L1757.08,768.13L1736.92,768.13Z" fill="#FF0000"/>
<path d="M1746.9,749.28L1756.62,759L1746.9,768.72L1737.18,759Z" fill="#FF0000"/>
<text transform="translate(1143.1,891) scale(1.045,1)" text-anchor="middle" font-family="'Liberation Serif','Times New Roman',serif" font-weight="bold" font-size="33.7" stroke="#fff" stroke-width="0.5">0.0</text>
<text transform="translate(1115,851.5) scale(1.045,1)" text-anchor="end" font-family="'Liberation Serif','Times New Roman',serif" font-weight="bold" font-size="33.7" stroke="#fff" stroke-width="0.5">0.0</text>
<text transform="translate(1403.13,891) scale(1.045,1)" text-anchor="middle" font-family="'Liberation Serif','Times New Roman',serif" font-weight="bold" font-size="33.7" stroke="#fff" stroke-width="0.5">6.0</text>
<text transform="translate(1115,593.07) scale(1.045,1)" text-anchor="end" font-family="'Liberation Serif','Times New Roman',serif" font-weight="bold" font-size="33.7" stroke="#fff" stroke-width="0.5">6.0</text>
<text transform="translate(1663.17,891) scale(1.045,1)" text-anchor="middle" font-family="'Liberation Serif','Times New Roman',serif" font-weight="bold" font-size="33.7" stroke="#fff" stroke-width="0.5">12.0</text>
<text transform="translate(1115,334.63) scale(1.045,1)" text-anchor="end" font-family="'Liberation Serif','Times New Roman',serif" font-weight="bold" font-size="33.7" stroke="#fff" stroke-width="0.5">12.0</text>
<text transform="translate(1923.2,891) scale(1.045,1)" text-anchor="middle" font-family="'Liberation Serif','Times New Roman',serif" font-weight="bold" font-size="33.7" stroke="#fff" stroke-width="0.5">18.0</text>
<text transform="translate(1115,76.2) scale(1.045,1)" text-anchor="end" font-family="'Liberation Serif','Times New Roman',serif" font-weight="bold" font-size="33.7" stroke="#fff" stroke-width="0.5">18.0</text>
<text x="1388" y="927.3" font-family="'Liberation Serif','Times New Roman',serif" font-weight="bold" font-size="36.8">Standard deviation (MPa)</text>
<text transform="translate(1031.5,702.5) rotate(-90)" font-family="'Liberation Serif','Times New Roman',serif" font-weight="bold" font-size="36.8">Standard deviation (MPa)</text>
<text x="1496" y="1005.4" font-family="'Liberation Serif','Times New Roman',serif" font-size="54.7">Validation</text>
<circle cx="1775" cy="23.6" r="9.4" fill="#FF0000"/>
<text x="1790" y="32.6" font-family="'Liberation Serif','Times New Roman',serif" font-weight="bold" font-size="31.8" fill="#595959" stroke="#fff" stroke-width="0.6">Measured</text>
<circle cx="1775" cy="58.11" r="8.8" fill="none" stroke="#FF0000" stroke-width="3.8"/>
<text x="1790" y="67.11" font-family="'Liberation Serif','Times New Roman',serif" font-weight="bold" font-size="31.8" fill="#595959" stroke="#fff" stroke-width="0.6">GEP</text>
<path d="M1765.4,83.02L1784.6,102.22M1765.4,102.22L1784.6,83.02" stroke="#FF0000" stroke-width="3.0" fill="none"/>
<text x="1790" y="101.62" font-family="'Liberation Serif','Times New Roman',serif" font-weight="bold" font-size="31.8" fill="#595959" stroke="#fff" stroke-width="0.6">SVR</text>
<path d="M1775,118.53L1783.6,135.3L1766.4,135.3Z" stroke="#FF0000" stroke-width="3" fill="none" stroke-linejoin="miter"/>
<text x="1790" y="136.13" font-family="'Liberation Serif','Times New Roman',serif" font-weight="bold" font-size="31.8" fill="#595959" stroke="#fff" stroke-width="0.6">KNN</text>
<path d="M1765.2,161.64L1784.8,161.64M1775,151.84L1775,171.44" stroke="#FF0000" stroke-width="4.6" fill="none"/>
<text x="1790" y="170.64" font-family="'Liberation Serif','Times New Roman',serif" font-weight="bold" font-size="31.8" fill="#595959" stroke="#fff" stroke-width="0.6">GMDHNN</text>
<path d="M1775,187.55L1783.6,196.15L1775,204.75L1766.4,196.15Z" stroke="#FF0000" stroke-width="2.8" fill="none"/>
<text x="1790" y="205.15" font-family="'Liberation Serif','Times New Roman',serif" font-weight="bold" font-size="31.8" fill="#595959" stroke="#fff" stroke-width="0.6">RF</text>
<path d="M1775,222.06L1784,239.26L1766,239.26Z" fill="#FF0000"/>
<text x="1790" y="239.66" font-family="'Liberation Serif','Times New Roman',serif" font-weight="bold" font-size="31.8" fill="#595959" stroke="#fff" stroke-width="0.6">XGBoosting</text>
<path d="M1775,256.17L1784,265.17L1775,274.17L1766,265.17Z" fill="#FF0000"/>
<text x="1790" y="274.17" font-family="'Liberation Serif','Times New Roman',serif" font-weight="bold" font-size="31.8" fill="#595959" stroke="#fff" stroke-width="0.6">AdaBoost</text>
</svg></body></html>
